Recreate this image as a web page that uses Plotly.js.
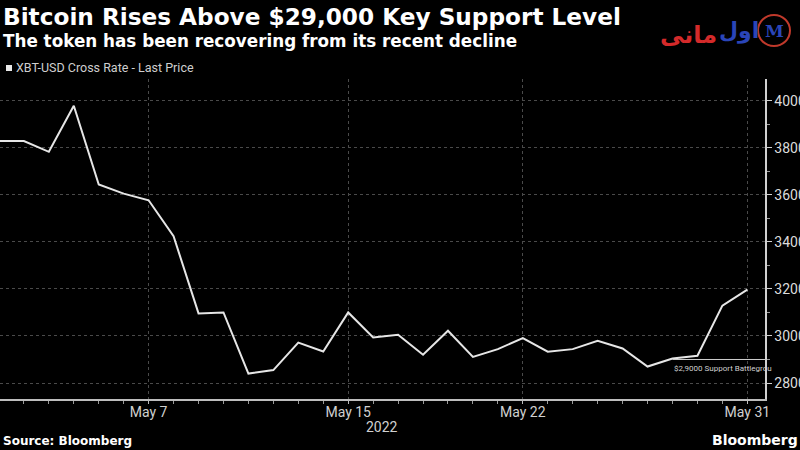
<!DOCTYPE html>
<html>
<head>
<meta charset="utf-8">
<script src="https://cdn.plot.ly/plotly-3.0.1.min.js"></script>
<style>html,body{margin:0;padding:0;background:#000;}#chart{width:800px;height:450px;}</style>
</head>
<body>
<div id="chart"></div>
<script>
const dates = ["2022-05-01","2022-05-02","2022-05-03","2022-05-04","2022-05-05","2022-05-06","2022-05-07","2022-05-08","2022-05-09","2022-05-10","2022-05-11","2022-05-12","2022-05-13","2022-05-14","2022-05-15","2022-05-16","2022-05-17","2022-05-18","2022-05-19","2022-05-20","2022-05-21","2022-05-22","2022-05-23","2022-05-24","2022-05-25","2022-05-26","2022-05-27","2022-05-28","2022-05-29","2022-05-30","2022-05-31"];
const prices = [38290,38290,37830,39790,36440,36050,35770,34240,30960,31000,28400,28550,29720,29340,31000,29940,30050,29200,30220,29110,29440,29910,29330,29440,29790,29470,28700,29040,29160,31290,31970];
const xTickVals = ["2022-05-07","2022-05-15","2022-05-22","2022-05-31"];
const xTickText = ["May 7","May 15","May 22","May 31"];
const yTickVals = [28000,30000,32000,34000,36000,38000,40000];
const yTickText = ["28000","30000","32000","34000","36000","38000","40000"];
const supportLevel = 29000;
const supportStart = "2022-05-28";
const xRange = ["2022-05-01 01:00","2022-05-31 17:00"];
const yRange = [27320, 40925];

// plot area: left 0, width 765, top 79, height 320
const W = 765, TOP = 79, H = 320;
const px = v => v / W;                 // pixel x -> paper x
const py = v => (TOP + H - v) / H;     // pixel y -> paper y

const grid = "#4a4a4a";
const trace = {
  x: dates, y: prices, type: "scatter", mode: "lines",
  line: {color: "#e6e6e6", width: 2}, hoverinfo: "skip", showlegend: false
};
const layout = {
  width: 800, height: 450,
  paper_bgcolor: "#000", plot_bgcolor: "#000",
  margin: {l: 0, r: 35, t: 79, b: 51},
  showlegend: false,
  xaxis: {
    type: "date", range: xRange,
    tickvals: xTickVals, ticktext: xTickText,
    showgrid: true, gridcolor: grid, griddash: "dot", gridwidth: 1,
    showline: true, linecolor: "#bdbdbd", linewidth: 1.5,
    ticks: "outside", ticklen: 3, tickcolor: "#bdbdbd",
    ticklabelstandoff: -3,
    minor: {dtick: 86400000, tick0: "2022-05-01", ticks: "outside", ticklen: 3, tickcolor: "#9a9a9a", showgrid: false},
    tickfont: {family: "Roboto, sans-serif", size: 14, color: "#d0d0d0"},
    zeroline: false, fixedrange: true
  },
  yaxis: {
    side: "right", range: yRange,
    tickvals: yTickVals, ticktext: yTickText,
    showgrid: true, gridcolor: grid, griddash: "dot", gridwidth: 1,
    showline: true, linecolor: "#d0d0d0", linewidth: 1.5,
    ticks: "outside", ticklen: 5, tickcolor: "#d0d0d0",
    minor: {dtick: 1000, tick0: 0, ticks: "outside", ticklen: 3, tickcolor: "#9a9a9a", showgrid: false},
    tickfont: {family: "Roboto, sans-serif", size: 14, color: "#dcdcdc"},
    zeroline: false, fixedrange: true
  },
  shapes: [
    {type: "line", xref: "x", yref: "y", x0: supportStart, x1: xRange[1], y0: supportLevel, y1: supportLevel,
     line: {color: "#cfcfcf", width: 1}},
    {type: "rect", xref: "paper", yref: "paper", x0: px(6), x1: px(12), y0: py(71), y1: py(65), line: {width: 0}, fillcolor: "#e8e8e8"},
    {type: "circle", xref: "paper", yref: "paper", x0: px(758), x1: px(790), y0: py(46), y1: py(15), line: {color: "#c0392b", width: 2}, fillcolor: "rgba(0,0,0,0)"}
  ],
  annotations: [
    {text: "<b>Bitcoin Rises Above $29,000 Key Support Level</b>", xref: "paper", yref: "paper", x: 0, y: py(17), xshift: 1,
     yanchor: "middle", xanchor: "left", showarrow: false, font: {family: "DejaVu Sans", size: 23.2, color: "#ffffff"}},
    {text: "<b>The token has been recovering from its recent decline</b>", xref: "paper", yref: "paper", x: 0, y: py(41), xshift: 1,
     yanchor: "middle", xanchor: "left", showarrow: false, font: {family: "DejaVu Sans", size: 16.8, color: "#ffffff"}},
    {text: "XBT-USD Cross Rate - Last Price", xref: "paper", yref: "paper", x: px(14), y: py(68),
     yanchor: "middle", xanchor: "left", showarrow: false, font: {family: "Roboto, sans-serif", size: 12.5, color: "#cfcfcf"}},
    {text: "$2,9000 Support Battlegrou", xref: "x", yref: "y", x: supportStart, y: supportLevel, yshift: -9, xshift: 0,
     yanchor: "middle", xanchor: "left", showarrow: false, font: {family: "Roboto, sans-serif", size: 8, color: "#cfcfcf"}},
    {text: "2022", xref: "paper", yref: "paper", x: px(382), y: py(427), yanchor: "middle", xanchor: "center", showarrow: false,
     font: {family: "Roboto, sans-serif", size: 14, color: "#d0d0d0"}},
    {text: "<b>Source: Bloomberg</b>", xref: "paper", yref: "paper", x: 0, y: py(441), xshift: 1, yanchor: "middle", xanchor: "left", showarrow: false,
     font: {family: "DejaVu Sans", size: 12, color: "#ffffff"}},
    {text: "<b>Bloomberg</b>", xref: "paper", yref: "paper", x: px(710), y: py(440), yanchor: "middle", xanchor: "left", showarrow: false,
     font: {family: "DejaVu Sans", size: 14, color: "#ffffff"}},
    {text: "<b>مانی</b>", xref: "paper", yref: "paper", x: px(688), y: py(35), yanchor: "middle", xanchor: "center", showarrow: false,
     font: {family: "DejaVu Sans", size: 24, color: "#d42a2a"}},
    {text: "<b>اول</b>", xref: "paper", yref: "paper", x: px(739), y: py(31), yanchor: "middle", xanchor: "center", showarrow: false,
     font: {family: "DejaVu Sans", size: 22, color: "#2a45b8"}},
    {text: "<b>M</b>", xref: "paper", yref: "paper", x: px(774), y: py(31), yanchor: "middle", xanchor: "center", showarrow: false,
     font: {family: "DejaVu Serif", size: 17, color: "#2a45b8"}}
  ]
};
Plotly.newPlot("chart", [trace], layout, {displayModeBar: false, staticPlot: true});
</script>
</body>
</html>
